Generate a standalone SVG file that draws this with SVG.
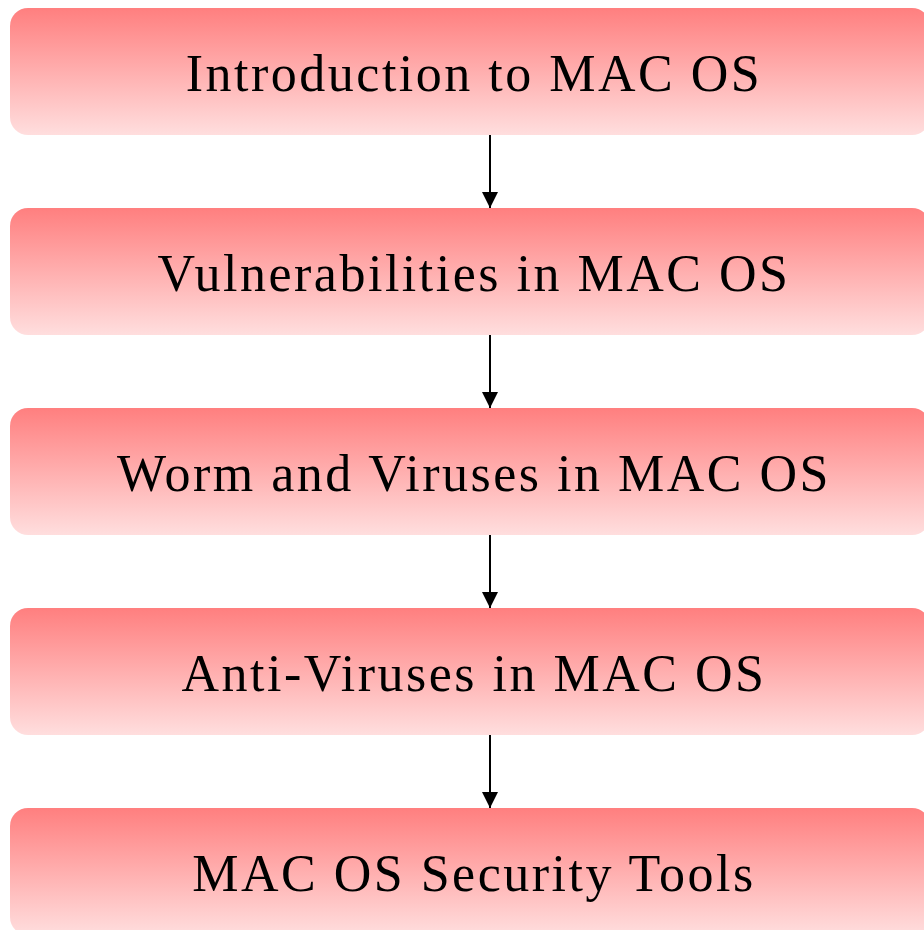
<svg xmlns="http://www.w3.org/2000/svg" width="924" height="930" viewBox="0 0 924 930">
<defs>
<linearGradient id="g" x1="0" y1="0" x2="0" y2="1">
<stop offset="0" stop-color="#FF7F7F"/>
<stop offset="1" stop-color="#FFDEDE"/>
</linearGradient>
<marker id="ah" markerWidth="16" markerHeight="17" refX="16" refY="8" orient="auto" markerUnits="userSpaceOnUse">
<path d="M0,0 L16,8 L0,16 Z" fill="#000"/>
</marker>
<style>
.box{fill:url(#g);}
.t{font-family:"Liberation Serif","Times New Roman",serif;font-size:52px;letter-spacing:2.5px;fill:#000;text-anchor:middle;}
.c{stroke:#000;stroke-width:2;fill:none;marker-end:url(#ah);}
</style>
</defs>
<rect width="924" height="930" fill="#fff"/>
<g id="n1"><rect class="box" x="10" y="8" width="920" height="127" rx="18"/><text class="t" x="474" y="91">Introduction to MAC OS</text></g>
<g id="n2"><rect class="box" x="10" y="208" width="920" height="127" rx="18"/><text class="t" x="474" y="291">Vulnerabilities in MAC OS</text></g>
<g id="n3"><rect class="box" x="10" y="408" width="920" height="127" rx="18"/><text class="t" x="474" y="491">Worm and Viruses in MAC OS</text></g>
<g id="n4"><rect class="box" x="10" y="608" width="920" height="127" rx="18"/><text class="t" x="474" y="691">Anti-Viruses in MAC OS</text></g>
<g id="n5"><rect class="box" x="10" y="808" width="920" height="127" rx="18"/><text class="t" x="474" y="891">MAC OS Security Tools</text></g>
<g id="connectors">
<path class="c" d="M490,135 V208"/>
<path class="c" d="M490,335 V408"/>
<path class="c" d="M490,535 V608"/>
<path class="c" d="M490,735 V808"/>
</g>
</svg>
